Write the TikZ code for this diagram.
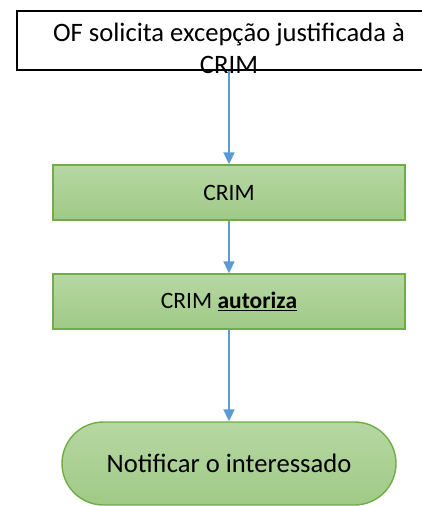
\documentclass[tikz,border=0pt]{standalone}
\usepackage{fontspec}
\setmainfont{Carlito}
\usetikzlibrary{arrows.meta,positioning}
\definecolor{gfillA}{HTML}{B6D7A3}
\definecolor{gfillB}{HTML}{A0CA86}
\definecolor{gborder}{HTML}{70AD47}
\definecolor{arrowblue}{HTML}{5B9BD5}
\tikzset{
  greenbox/.style={draw=gborder, line width=1.4pt, top color=gfillA, bottom color=gfillB,
    minimum width=352pt, minimum height=55pt, inner sep=0pt, font=\fontsize{23.5}{28}\selectfont},
  termbox/.style={draw=gborder, line width=1.4pt, top color=gfillA, bottom color=gfillB,
    rounded corners=41.5pt, minimum width=334pt, minimum height=83pt, inner sep=0pt,
    font=\fontsize{26.6}{32}\selectfont},
  flowarrow/.style={draw=arrowblue, line width=2pt, -{Triangle[width=11pt,length=12pt]}},
}
\begin{document}
\begin{tikzpicture}[x=1pt,y=1pt]
\useasboundingbox (0,0) rectangle (422,-506);
\clip (0,0) rectangle (422,-506);
\node[draw=black, line width=2pt, minimum width=424pt, minimum height=59pt, inner sep=0pt] (topbox) at (229,-40.5) {};
\node[align=center, inner sep=0pt, font=\fontsize{26.6}{32}\selectfont] (toptext) at (229,-48) {OF solicita excepção justificada à\\CRIM};
\node[greenbox] (crim) at (229,-192.5) {CRIM};
\node[greenbox] (aut) at (229,-301.5) {CRIM \underline{\textbf{autoriza}}};
\node[termbox] (notif) at (229,-463.5) {Notificar o interessado};
\draw[flowarrow] (topbox.south) -- (crim.north);
\draw[flowarrow] (crim.south) -- (aut.north);
\draw[flowarrow] (aut.south) -- (notif.north);
\end{tikzpicture}
\end{document}
